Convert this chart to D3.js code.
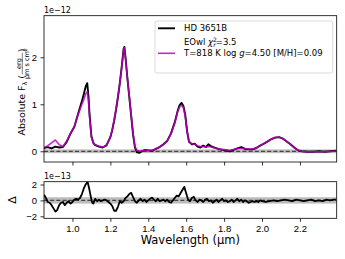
<!DOCTYPE html>
<html>
<head>
<meta charset="utf-8">
<script src="https://cdn.jsdelivr.net/npm/d3@7"></script>
<style>
  body { margin: 0; background: #fff; }
  svg { font-family: "DejaVu Sans", sans-serif; }
  .tick text { font-size: 9.5px; fill: #000; }
  .tick line { stroke: #000; stroke-width: 0.8; }
</style>
</head>
<body>
<div id="chart"></div>
<script>
// spectrum grid (micron), observed and model flux in units of 1e-12
const wl = [0.85, 0.87, 0.89, 0.91, 0.93, 0.95, 0.97, 0.99, 1.01, 1.03, 1.05, 1.06, 1.07, 1.078, 1.085, 1.09, 1.10, 1.11, 1.12, 1.14,
  1.16, 1.18, 1.20, 1.21, 1.22, 1.23, 1.24, 1.25, 1.26, 1.27, 1.274, 1.28, 1.29, 1.30, 1.31, 1.32, 1.33, 1.34, 1.355, 1.37,
  1.385, 1.40, 1.42, 1.44, 1.46, 1.48, 1.50, 1.52, 1.54, 1.555, 1.565, 1.575, 1.585, 1.595, 1.605, 1.615, 1.63, 1.645, 1.66, 1.675,
  1.69, 1.705, 1.717, 1.73, 1.75, 1.77, 1.79, 1.81, 1.83, 1.85, 1.87, 1.89, 1.91, 1.93, 1.95, 1.97, 1.99, 2.01, 2.03, 2.05,
  2.07, 2.09, 2.11, 2.13, 2.15, 2.17, 2.19, 2.21, 2.24, 2.27, 2.30, 2.33, 2.36, 2.39];
const obsFlux = [0.07, 0.09, 0.06, 0.10, 0.08, 0.09, 0.20, 0.38, 0.52, 0.80, 1.07, 1.22, 1.38, 1.45, 1.15, 0.80, 0.32, 0.18, 0.13, 0.10,
  0.08, 0.13, 0.30, 0.45, 0.65, 0.88, 1.15, 1.45, 1.80, 2.18, 2.22, 2.00, 1.55, 1.15, 0.75, 0.35, 0.08, -0.02, -0.03, 0.01,
  0.03, 0.02, 0.01, 0.05, 0.09, 0.15, 0.22, 0.38, 0.62, 0.86, 0.98, 1.03, 0.97, 0.78, 0.42, 0.20, 0.15, 0.16, 0.10, 0.08,
  0.12, 0.09, 0.15, 0.11, 0.08, 0.05, 0.03, 0.02, 0.00, 0.03, 0.06, 0.09, 0.05, 0.04, 0.04, 0.07, 0.12, 0.16, 0.21, 0.26,
  0.29, 0.30, 0.27, 0.21, 0.15, 0.08, 0.02, 0.00, -0.01, -0.01, 0.00, -0.01, 0.00, 0.01];
const modelFlux = [0.08, 0.12, 0.18, 0.24, 0.14, 0.10, 0.22, 0.38, 0.52, 0.78, 1.00, 1.10, 1.22, 1.27, 1.05, 0.75, 0.30, 0.18, 0.14, 0.11,
  0.09, 0.12, 0.30, 0.46, 0.66, 0.90, 1.17, 1.45, 1.78, 2.16, 2.21, 1.98, 1.55, 1.17, 0.77, 0.37, 0.10, 0.02, 0.00, 0.01,
  0.02, 0.02, 0.02, 0.05, 0.09, 0.14, 0.22, 0.37, 0.60, 0.84, 0.94, 0.98, 0.93, 0.75, 0.42, 0.21, 0.16, 0.15, 0.12, 0.10,
  0.10, 0.09, 0.10, 0.09, 0.07, 0.05, 0.04, 0.03, 0.02, 0.04, 0.06, 0.06, 0.06, 0.05, 0.05, 0.07, 0.12, 0.17, 0.21, 0.26,
  0.30, 0.30, 0.27, 0.21, 0.15, 0.08, 0.02, 0.00, -0.01, -0.01, -0.01, -0.01, 0.00, 0.00];

// residuals (units of 1e-13)
const resWl = [0.85, 0.86, 0.87, 0.88, 0.89, 0.90, 0.91, 0.92, 0.93, 0.94, 0.95, 0.96, 0.97, 0.98, 0.99, 1.00, 1.01, 1.02, 1.03, 1.04,
  1.05, 1.06, 1.07, 1.08, 1.09, 1.10, 1.105, 1.11, 1.12, 1.13, 1.14, 1.15, 1.16, 1.17, 1.18, 1.19, 1.20, 1.21, 1.22, 1.23,
  1.24, 1.25, 1.26, 1.27, 1.28, 1.29, 1.30, 1.31, 1.32, 1.33, 1.34, 1.35, 1.36, 1.37, 1.38, 1.39, 1.40, 1.41, 1.42, 1.43,
  1.44, 1.45, 1.46, 1.47, 1.48, 1.49, 1.50, 1.51, 1.52, 1.53, 1.54, 1.55, 1.56, 1.57, 1.58, 1.59, 1.60, 1.61, 1.62, 1.63,
  1.64, 1.65, 1.66, 1.67, 1.68, 1.69, 1.70, 1.71, 1.72, 1.73, 1.74, 1.75, 1.76, 1.77, 1.78, 1.79, 1.80, 1.81, 1.82, 1.83,
  1.84, 1.85, 1.86, 1.87, 1.88, 1.89, 1.90, 1.91, 1.92, 1.93, 1.94, 1.95, 1.96, 1.97, 1.98, 1.99, 2.00, 2.02, 2.04, 2.06,
  2.08, 2.10, 2.12, 2.14, 2.16, 2.18, 2.20, 2.22, 2.24, 2.26, 2.28, 2.30, 2.32, 2.34, 2.36, 2.38, 2.39];
const resVal = [0.7, 0.3, -0.2, -0.3, -0.6, -1.0, -1.4, -1.2, -0.6, -0.3, -0.2, -0.6, -0.3, -0.1, -0.4, -0.2, 0.1, 0.2, 0.1, 0.3,
  0.8, 1.5, 2.0, 2.35, 1.3, 0.1, -0.3, -0.4, 0.2, -0.1, 0.1, -0.1, 0.0, 0.1, 0.0, -0.2, -0.4, -0.7, -1.3, -1.3,
  -0.8, -0.1, -0.3, -0.1, 0.3, 0.5, 0.8, 0.95, 0.4, -0.1, -0.3, 0.0, 0.2, -0.1, 0.1, -0.2, 0.0, 0.2, 0.35, 0.1,
  -0.1, 0.2, -0.1, 0.0, 0.1, -0.1, 0.1, -0.2, -0.3, 0.0, 0.3, 0.6, 0.5, 0.9, 1.3, 1.7, 0.9, 0.1, -0.1, 0.3,
  0.45, 0.0, -0.2, 0.1, 0.0, -0.2, 0.1, 0.2, -0.1, 0.0, -0.3, -0.1, 0.1, -0.2, 0.0, 0.2, -0.1, 0.0, -0.2, -0.1,
  0.1, -0.2, 0.0, 0.2, -0.1, 0.1, -0.2, 0.0, -0.1, -0.3, -0.2, -0.1, -0.2, -0.1, -0.2, 0.0, -0.1, -0.2, -0.1, 0.0,
  -0.1, 0.0, 0.1, 0.0, -0.1, 0.1, 0.0, -0.1, 0.0, 0.1, -0.1, 0.0, -0.1, 0.1, 0.0, 0.1, 0.1];
const errBand = 0.4; // 1e-13, gray uncertainty band around zero

const xTicks = [1.0, 1.2, 1.4, 1.6, 1.8, 2.0, 2.2];
const yTopTicks = [0, 1, 2];
const yBotTicks = [-2, 0, 2];

const legendLabels = ['HD 3651B', 'EOwl', 'T=818 K log'];

const width = 345, height = 259;
const left = 44, right = 336.7;

const svg = d3.select('#chart').append('svg')
  .attr('width', width)
  .attr('height', height);

const x = d3.scaleLinear().domain([0.85, 2.394]).range([left, right]);
const yTop = d3.scaleLinear().domain([-0.228, 2.885]).range([162, 15.7]);
const yBot = d3.scaleLinear().domain([-2.25, 2.35]).range([218.3, 181.7]);

const magenta = '#bf00bf';

// clip paths for the two panels
const defs = svg.append('defs');
defs.append('clipPath').attr('id', 'clipTop').append('rect')
  .attr('x', left).attr('y', 15.7).attr('width', right - left).attr('height', 162 - 15.7);
defs.append('clipPath').attr('id', 'clipBot').append('rect')
  .attr('x', left).attr('y', 181.7).attr('width', right - left).attr('height', 218.3 - 181.7);

// ---- top panel ----
const topPanel = svg.append('g').attr('clip-path', 'url(#clipTop)');

topPanel.append('rect')
  .attr('x', left).attr('width', right - left)
  .attr('y', yTop(errBand / 10)).attr('height', yTop(-errBand / 10) - yTop(errBand / 10))
  .attr('fill', '#bdbdbd');

topPanel.append('line')
  .attr('x1', left).attr('x2', right)
  .attr('y1', yTop(0)).attr('y2', yTop(0))
  .attr('stroke', '#444').attr('stroke-width', 1.3).attr('stroke-dasharray', '4,2.2');

const lineTop = d3.line().x((d, i) => x(wl[i])).y(d => yTop(d));

topPanel.append('path')
  .datum(obsFlux)
  .attr('d', lineTop)
  .attr('fill', 'none').attr('stroke', '#000').attr('stroke-width', 1.9)
  .attr('stroke-linejoin', 'round');

topPanel.append('path')
  .datum(modelFlux)
  .attr('d', lineTop)
  .attr('fill', 'none').attr('stroke', magenta).attr('stroke-width', 1.6)
  .attr('stroke-opacity', 0.85).attr('stroke-linejoin', 'round');

svg.append('g')
  .attr('transform', `translate(${left},0)`)
  .call(d3.axisLeft(yTop).tickValues(yTopTicks).tickSize(3.5).tickPadding(3.5).tickFormat(d3.format('d')))
  .call(g => g.select('.domain').remove());

svg.append('g')
  .attr('transform', 'translate(0,162)')
  .call(d3.axisBottom(x).tickValues(xTicks).tickSize(3.5).tickFormat(''))
  .call(g => g.select('.domain').remove());

svg.append('rect')
  .attr('x', left).attr('y', 15.7).attr('width', right - left).attr('height', 162 - 15.7)
  .attr('fill', 'none').attr('stroke', '#000').attr('stroke-width', 0.8);

svg.append('text')
  .attr('x', left).attr('y', 13)
  .attr('font-size', 8)
  .text('1e\u221212');

// y label with fraction
const yl = svg.append('g').attr('transform', 'translate(22,92) rotate(-90)');
const ylText = yl.append('text').attr('text-anchor', 'middle').attr('font-size', 9.5).attr('dy', '0.35em');
ylText.append('tspan').text('Absolute F');
ylText.append('tspan').attr('font-size', 6.5).attr('dy', 2).text('\u03bb');
ylText.append('tspan').attr('dy', -2).text(' (');
ylText.append('tspan').attr('font-size', 6.5).attr('fill', 'none').text('\u00a0\u00a0\u00a0\u00a0\u00a0\u00a0\u00a0\u00a0\u00a0\u00a0\u00a0');
ylText.append('tspan').text(')');

// draw the fraction in position after measuring
const nodes = ylText.selectAll('tspan').nodes();
const fracStart = nodes[3].getStartPositionOfChar(0).x;
const fracEnd = nodes[3].getEndPositionOfChar(nodes[3].getNumberOfChars() - 1).x;
const fracMid = (fracStart + fracEnd) / 2;
yl.append('text').attr('x', fracMid).attr('y', -1.5).attr('text-anchor', 'middle')
  .attr('font-size', 6.5).text('erg');
yl.append('line').attr('x1', fracStart + 0.5).attr('x2', fracEnd - 0.5)
  .attr('y1', 0.3).attr('y2', 0.3).attr('stroke', '#000').attr('stroke-width', 0.5);
const den = yl.append('text').attr('x', fracMid).attr('y', 6.8).attr('text-anchor', 'middle').attr('font-size', 6.5);
den.append('tspan').text('\u00b5m s cm');
den.append('tspan').attr('font-size', 4.8).attr('dy', -2.2).text('2');

// legend
const lg = svg.append('g');
lg.append('rect')
  .attr('x', 155).attr('y', 21).attr('width', 177.7).attr('height', 52)
  .attr('rx', 2).attr('fill', '#fff').attr('fill-opacity', 0.8)
  .attr('stroke', '#d0d0d0').attr('stroke-width', 0.8);
lg.append('line').attr('x1', 158).attr('x2', 175).attr('y1', 28.3).attr('y2', 28.3)
  .attr('stroke', '#000').attr('stroke-width', 1.9);
lg.append('line').attr('x1', 158).attr('x2', 175).attr('y1', 53.3).attr('y2', 53.3)
  .attr('stroke', magenta).attr('stroke-width', 1.6).attr('stroke-opacity', 0.85);
lg.append('text').attr('x', 184).attr('y', 31.3).attr('font-size', 8.5).text(legendLabels[0]);
const l2 = lg.append('text').attr('x', 184).attr('y', 45).attr('font-size', 8.5);
l2.append('tspan').text(legendLabels[1] + ' ');
l2.append('tspan').attr('font-style', 'italic').text('\u03c7');
l2.append('tspan').attr('font-size', 6).attr('dy', -3.5).text('2');
l2.append('tspan').attr('font-size', 6).attr('font-style', 'italic').attr('dx', -3.6).attr('dy', 5.5).text('r');
l2.append('tspan').attr('dy', -2).text('=3.5');
const l3 = lg.append('text').attr('x', 184).attr('y', 56.3).attr('font-size', 8.5);
l3.append('tspan').text(legendLabels[2] + ' ');
l3.append('tspan').attr('font-style', 'italic').text('g');
l3.append('tspan').text('=4.50 [M/H]=0.09');

// ---- bottom panel ----
const bot = svg.append('g').attr('clip-path', 'url(#clipBot)');

bot.append('rect')
  .attr('x', left).attr('width', right - left)
  .attr('y', yBot(errBand)).attr('height', yBot(-errBand) - yBot(errBand))
  .attr('fill', '#bdbdbd');

bot.append('line')
  .attr('x1', left).attr('x2', right)
  .attr('y1', yBot(0)).attr('y2', yBot(0))
  .attr('stroke', '#444').attr('stroke-width', 1.1).attr('stroke-dasharray', '4,2.2');

bot.append('path')
  .datum(resVal)
  .attr('d', d3.line().x((d, i) => x(resWl[i])).y(d => yBot(d)))
  .attr('fill', 'none').attr('stroke', '#000').attr('stroke-width', 1.8)
  .attr('stroke-linejoin', 'round');

svg.append('g')
  .attr('transform', `translate(${left},0)`)
  .call(d3.axisLeft(yBot).tickValues(yBotTicks).tickSize(3.5).tickPadding(3.5)
    .tickFormat(d => d < 0 ? '\u2212' + Math.abs(d) : d))
  .call(g => g.select('.domain').remove());

svg.append('g')
  .attr('transform', 'translate(0,218.3)')
  .call(d3.axisBottom(x).tickValues(xTicks).tickSize(3.5).tickPadding(3.5).tickFormat(d3.format('.1f')))
  .call(g => g.select('.domain').remove());

svg.append('rect')
  .attr('x', left).attr('y', 181.7).attr('width', right - left).attr('height', 218.3 - 181.7)
  .attr('fill', 'none').attr('stroke', '#000').attr('stroke-width', 0.8);

svg.append('text')
  .attr('x', left).attr('y', 179)
  .attr('font-size', 8)
  .text('1e\u221213');

svg.append('text')
  .attr('x', 12).attr('y', 200)
  .attr('dy', '0.35em')
  .attr('text-anchor', 'middle')
  .attr('transform', 'rotate(-90,12,200)')
  .attr('font-size', 11)
  .text('\u0394');

svg.append('text')
  .attr('x', (left + right) / 2).attr('y', 244)
  .attr('text-anchor', 'middle')
  .attr('font-size', 11.5)
  .text('Wavelength (\u00b5m)');
</script>
</body>
</html>
